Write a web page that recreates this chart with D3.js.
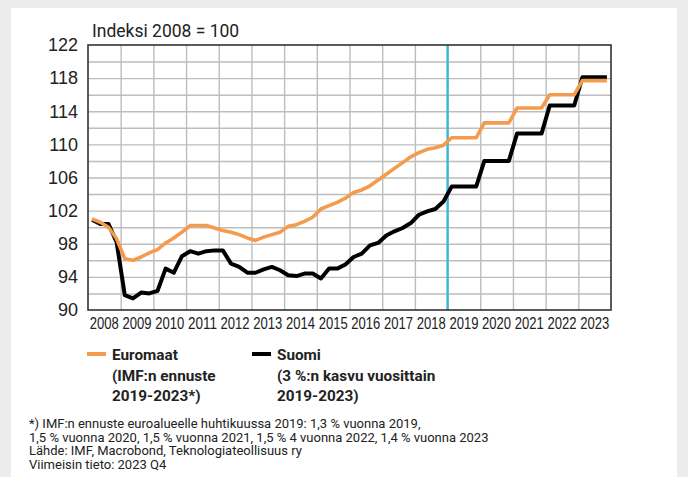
<!DOCTYPE html>
<html>
<head>
<meta charset="utf-8">
<script src="https://cdn.jsdelivr.net/npm/d3@7"></script>
<style>
  body { margin: 0; background: #ececec; }
  svg { display: block; font-family: Roboto, 'Noto Sans', sans-serif; }
  .yaxis text { font-size: 18px; fill: #222; }
  .xaxis text { font-size: 16px; fill: #222; }
  .grid line { stroke: #bdbdbd; stroke-width: 1.4; }
  .legend text { font-size: 15.3px; font-weight: bold; fill: #222; }
  .note text { font-size: 13px; fill: #222; }
</style>
</head>
<body>
<script>
const width = 688
const height = 477

// Tick labels
const yearLabels = ['2008', '2009', '2010', '2011', '2012', '2013', '2014', '2015',
  '2016', '2017', '2018', '2019', '2020', '2021', '2022', '2023']
const yTicks = [90, 94, 98, 102, 106, 110, 114, 118, 122]

// Quarterly index 2008Q1 - 2018Q4 (2008 = 100)
const suomiQuarterly = [
  100.9, 100.4, 100.4, 98.2,
  91.8, 91.4, 92.1, 92.0,
  92.3, 95.0, 94.5, 96.5,
  97.1, 96.8, 97.1, 97.2,
  97.2, 95.6, 95.2, 94.5,
  94.5, 94.9, 95.2, 94.8,
  94.2, 94.1, 94.4, 94.4,
  93.8, 95.0, 95.0, 95.5,
  96.4, 96.8, 97.8, 98.1,
  99.0, 99.5, 99.9, 100.5,
  101.5, 101.9, 102.2, 103.1
]
const euroQuarterly = [
  101.0, 100.6, 100.0, 98.6,
  96.2, 96.0, 96.4, 96.9,
  97.3, 98.1, 98.7, 99.4,
  100.2, 100.2, 100.2, 99.9,
  99.6, 99.4, 99.1, 98.7,
  98.4, 98.8, 99.1, 99.4,
  100.1, 100.3, 100.7, 101.2,
  102.2, 102.6, 103.0, 103.5,
  104.2, 104.5, 105.0, 105.7,
  106.4, 107.1, 107.8, 108.5,
  109.0, 109.4, 109.6, 109.9
]
// Forecast levels per year 2019 - 2023
const forecastYears = [2019, 2020, 2021, 2022, 2023]
const suomiForecast = [104.9, 108.0, 111.3, 114.7, 118.1]
const euroForecast = [110.8, 112.6, 114.4, 116.0, 117.7]

const notes = [
  '*) IMF:n ennuste euroalueelle huhtikuussa 2019: 1,3 % vuonna 2019,',
  '1,5 % vuonna 2020, 1,5 % vuonna 2021, 1,5 % 4 vuonna 2022, 1,4 % vuonna 2023',
  'Lähde: IMF, Macrobond, Teknologiateollisuus ry',
  'Viimeisin tieto: 2023 Q4'
]

const plot = { left: 88, right: 611, top: 45, bottom: 310 }

function toPoints(quarterly, forecast) {
  const pts = quarterly.map((v, i) => ({ t: 2008 + Math.floor(i / 4) + ((i % 4) + 0.5) / 4, v }))
  forecast.forEach((v, i) => {
    pts.push({ t: forecastYears[i] + 0.125, v })
    pts.push({ t: forecastYears[i] + 0.875, v })
  })
  return pts
}

const svg = d3.select('body').append('svg')
  .attr('width', width).attr('height', height)

svg.append('rect').attr('x', 11).attr('y', 8)
  .attr('width', 666).attr('height', height - 8).attr('fill', '#fff')

const xScale = d3.scaleLinear().domain([2008, 2024]).range([plot.left, plot.right])
const yScale = d3.scaleLinear().domain([90, 122]).range([plot.bottom, plot.top])
const xBand = d3.scaleBand().domain(yearLabels).range([plot.left, plot.right])

// Grid
svg.append('g').attr('class', 'grid')
  .attr('transform', `translate(${plot.left},0)`)
  .call(d3.axisLeft(yScale).tickValues(d3.range(92, 122, 2))
    .tickSize(-(plot.right - plot.left)).tickFormat(''))
  .call(g => g.select('.domain').remove())
svg.append('g').attr('class', 'grid')
  .attr('transform', `translate(0,${plot.bottom})`)
  .call(d3.axisBottom(xScale).tickValues(d3.range(2009, 2024))
    .tickSize(-(plot.bottom - plot.top)).tickFormat(''))
  .call(g => g.select('.domain').remove())

// Forecast divider
svg.append('line')
  .attr('x1', xScale(2019)).attr('x2', xScale(2019))
  .attr('y1', plot.top).attr('y2', plot.bottom)
  .attr('stroke', '#3fb8d6').attr('stroke-width', 2.4)

// Frame
svg.append('rect')
  .attr('x', plot.left).attr('y', plot.top)
  .attr('width', plot.right - plot.left).attr('height', plot.bottom - plot.top)
  .attr('fill', 'none').attr('stroke', '#333').attr('stroke-width', 1.6)

// Axes
svg.append('g').attr('class', 'yaxis')
  .attr('transform', `translate(${plot.left},0)`)
  .call(d3.axisLeft(yScale).tickValues(yTicks).tickSize(0).tickPadding(10))
  .call(g => g.select('.domain').remove())
svg.append('g').attr('class', 'xaxis')
  .attr('transform', `translate(0,${plot.bottom})`)
  .call(d3.axisBottom(xBand).tickSize(0).tickPadding(8))
  .call(g => g.select('.domain').remove())
  .call(g => g.selectAll('text')
    .attr('textLength', 29).attr('lengthAdjust', 'spacingAndGlyphs'))

svg.append('text').attr('x', 92).attr('y', 37)
  .style('font-size', '17.5px').attr('fill', '#222')
  .text('Indeksi 2008 = 100')

// Lines
const line = d3.line()
  .x(d => xScale(d.t))
  .y(d => yScale(d.v))

const series = [
  { name: 'suomi', color: '#000', w: 4, pts: toPoints(suomiQuarterly, suomiForecast) },
  { name: 'euro', color: '#f59b4c', w: 3.6, pts: toPoints(euroQuarterly, euroForecast) }
]
svg.selectAll('.serie')
  .data(series)
  .join('path')
  .attr('class', 'serie')
  .attr('fill', 'none')
  .attr('stroke', d => d.color)
  .attr('stroke-width', d => d.w)
  .attr('stroke-linejoin', 'round')
  .attr('d', d => line(d.pts))

// Legend
const legendItems = [
  { x: 87, color: '#f59b4c', lines: ['Euromaat', '(IMF:n ennuste', '2019-2023*)'] },
  { x: 252, color: '#000', lines: ['Suomi', '(3 %:n kasvu vuosittain', '2019-2023)'] }
]
const legend = svg.append('g').attr('class', 'legend')
  .selectAll('g').data(legendItems).join('g')
  .attr('transform', d => `translate(${d.x},0)`)
legend.append('line')
  .attr('x1', 0).attr('x2', 19).attr('y1', 354).attr('y2', 354)
  .attr('stroke', d => d.color).attr('stroke-width', 4)
legend.selectAll('text').data(d => d.lines).join('text')
  .attr('x', 25).attr('y', (d, i) => 360 + i * 20.5)
  .text(d => d)

// Footnote
svg.append('g').attr('class', 'note')
  .selectAll('text').data(notes).join('text')
  .attr('x', 29).attr('y', (d, i) => 428 + i * 13.7)
  .text(d => d)
</script>
</body>
</html>
